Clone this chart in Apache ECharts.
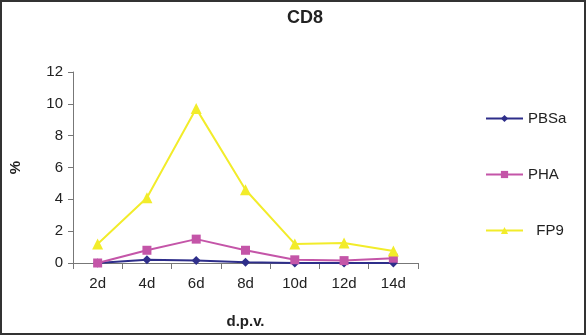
<!DOCTYPE html>
<html><head><meta charset="utf-8">
<script src="https://cdn.jsdelivr.net/npm/echarts@6/dist/echarts.min.js"></script>
<style>html,body{margin:0;padding:0;background:#fff}#c{width:586px;height:335px}</style>
</head><body><div id="c"></div>
<script>
const categories = ['2d','4d','6d','8d','10d','12d','14d'];
const pbsa = [0, 0.2, 0.15, 0.05, 0, 0, 0];
const pha = [0, 0.8, 1.5, 0.8, 0.2, 0.15, 0.3];
const fp9 = [1.2, 4.1, 9.7, 4.6, 1.2, 1.25, 0.75];
const yTicks = [0, 2, 4, 6, 8, 10, 12];

const chart = echarts.init(document.getElementById('c'), null, {renderer: 'canvas'});
const font = 'Liberation Sans, Arial, sans-serif';
chart.setOption({
  animation: false,
  title: {text: 'CD8', left: 300, top: 4, textAlign: 'center',
    textStyle: {fontFamily: font, fontSize: 18, fontWeight: 'bold', color: '#222'}},
  graphic: [{type: 'rect', shape: {x: 1, y: 1, width: 584, height: 333},
    style: {fill: 'none', stroke: '#333', lineWidth: 2}, silent: true}],
  grid: {left: 68, top: 72, width: 350, height: 191, containLabel: false},
  legend: {orient: 'vertical', left: 480, top: 106, itemGap: 41, itemWidth: 37, itemHeight: 9,
    textStyle: {fontFamily: font, fontSize: 15, color: '#222'},
    formatter: n => n === 'FP9' ? '  FP9' : n,
    data: ['PBSa', 'PHA', 'FP9']},
  xAxis: {type: 'category', data: categories, boundaryGap: true,
    name: 'd.p.v.', nameLocation: 'middle', nameGap: 51,
    nameTextStyle: {fontFamily: font, fontSize: 15, fontWeight: 'bold', color: '#222'},
    axisLine: {lineStyle: {color: '#777', width: 1}},
    axisTick: {show: true, alignWithLabel: false, length: 6, lineStyle: {color: '#777'}},
    axisLabel: {fontFamily: font, fontSize: 15, color: '#222', margin: 13}},
  yAxis: {type: 'value', min: 0, max: 12, interval: 2,
    name: '%', nameLocation: 'middle', nameGap: 50, nameRotate: 90,
    nameTextStyle: {fontFamily: font, fontSize: 15, fontWeight: 'bold', color: '#222'},
    axisLine: {show: true, lineStyle: {color: '#777', width: 1}},
    axisTick: {show: true, length: 5, lineStyle: {color: '#777'}},
    splitLine: {show: false},
    axisLabel: {fontFamily: font, fontSize: 15, color: '#222', margin: 10,
      formatter: v => yTicks.includes(v) ? String(v) : ''}},
  series: [
    {name: 'PBSa', type: 'line', data: pbsa, symbol: 'diamond', symbolSize: 9,
      lineStyle: {color: '#2e2e8a', width: 2}, itemStyle: {color: '#2e2e8a'}},
    {name: 'PHA', type: 'line', data: pha, symbol: 'rect', symbolSize: 9,
      lineStyle: {color: '#c455a8', width: 2}, itemStyle: {color: '#c455a8'}},
    {name: 'FP9', type: 'line', data: fp9, symbol: 'triangle', symbolSize: 11,
      lineStyle: {color: '#f2ec2a', width: 2}, itemStyle: {color: '#f2ec2a'}}
  ]
});
</script></body></html>
